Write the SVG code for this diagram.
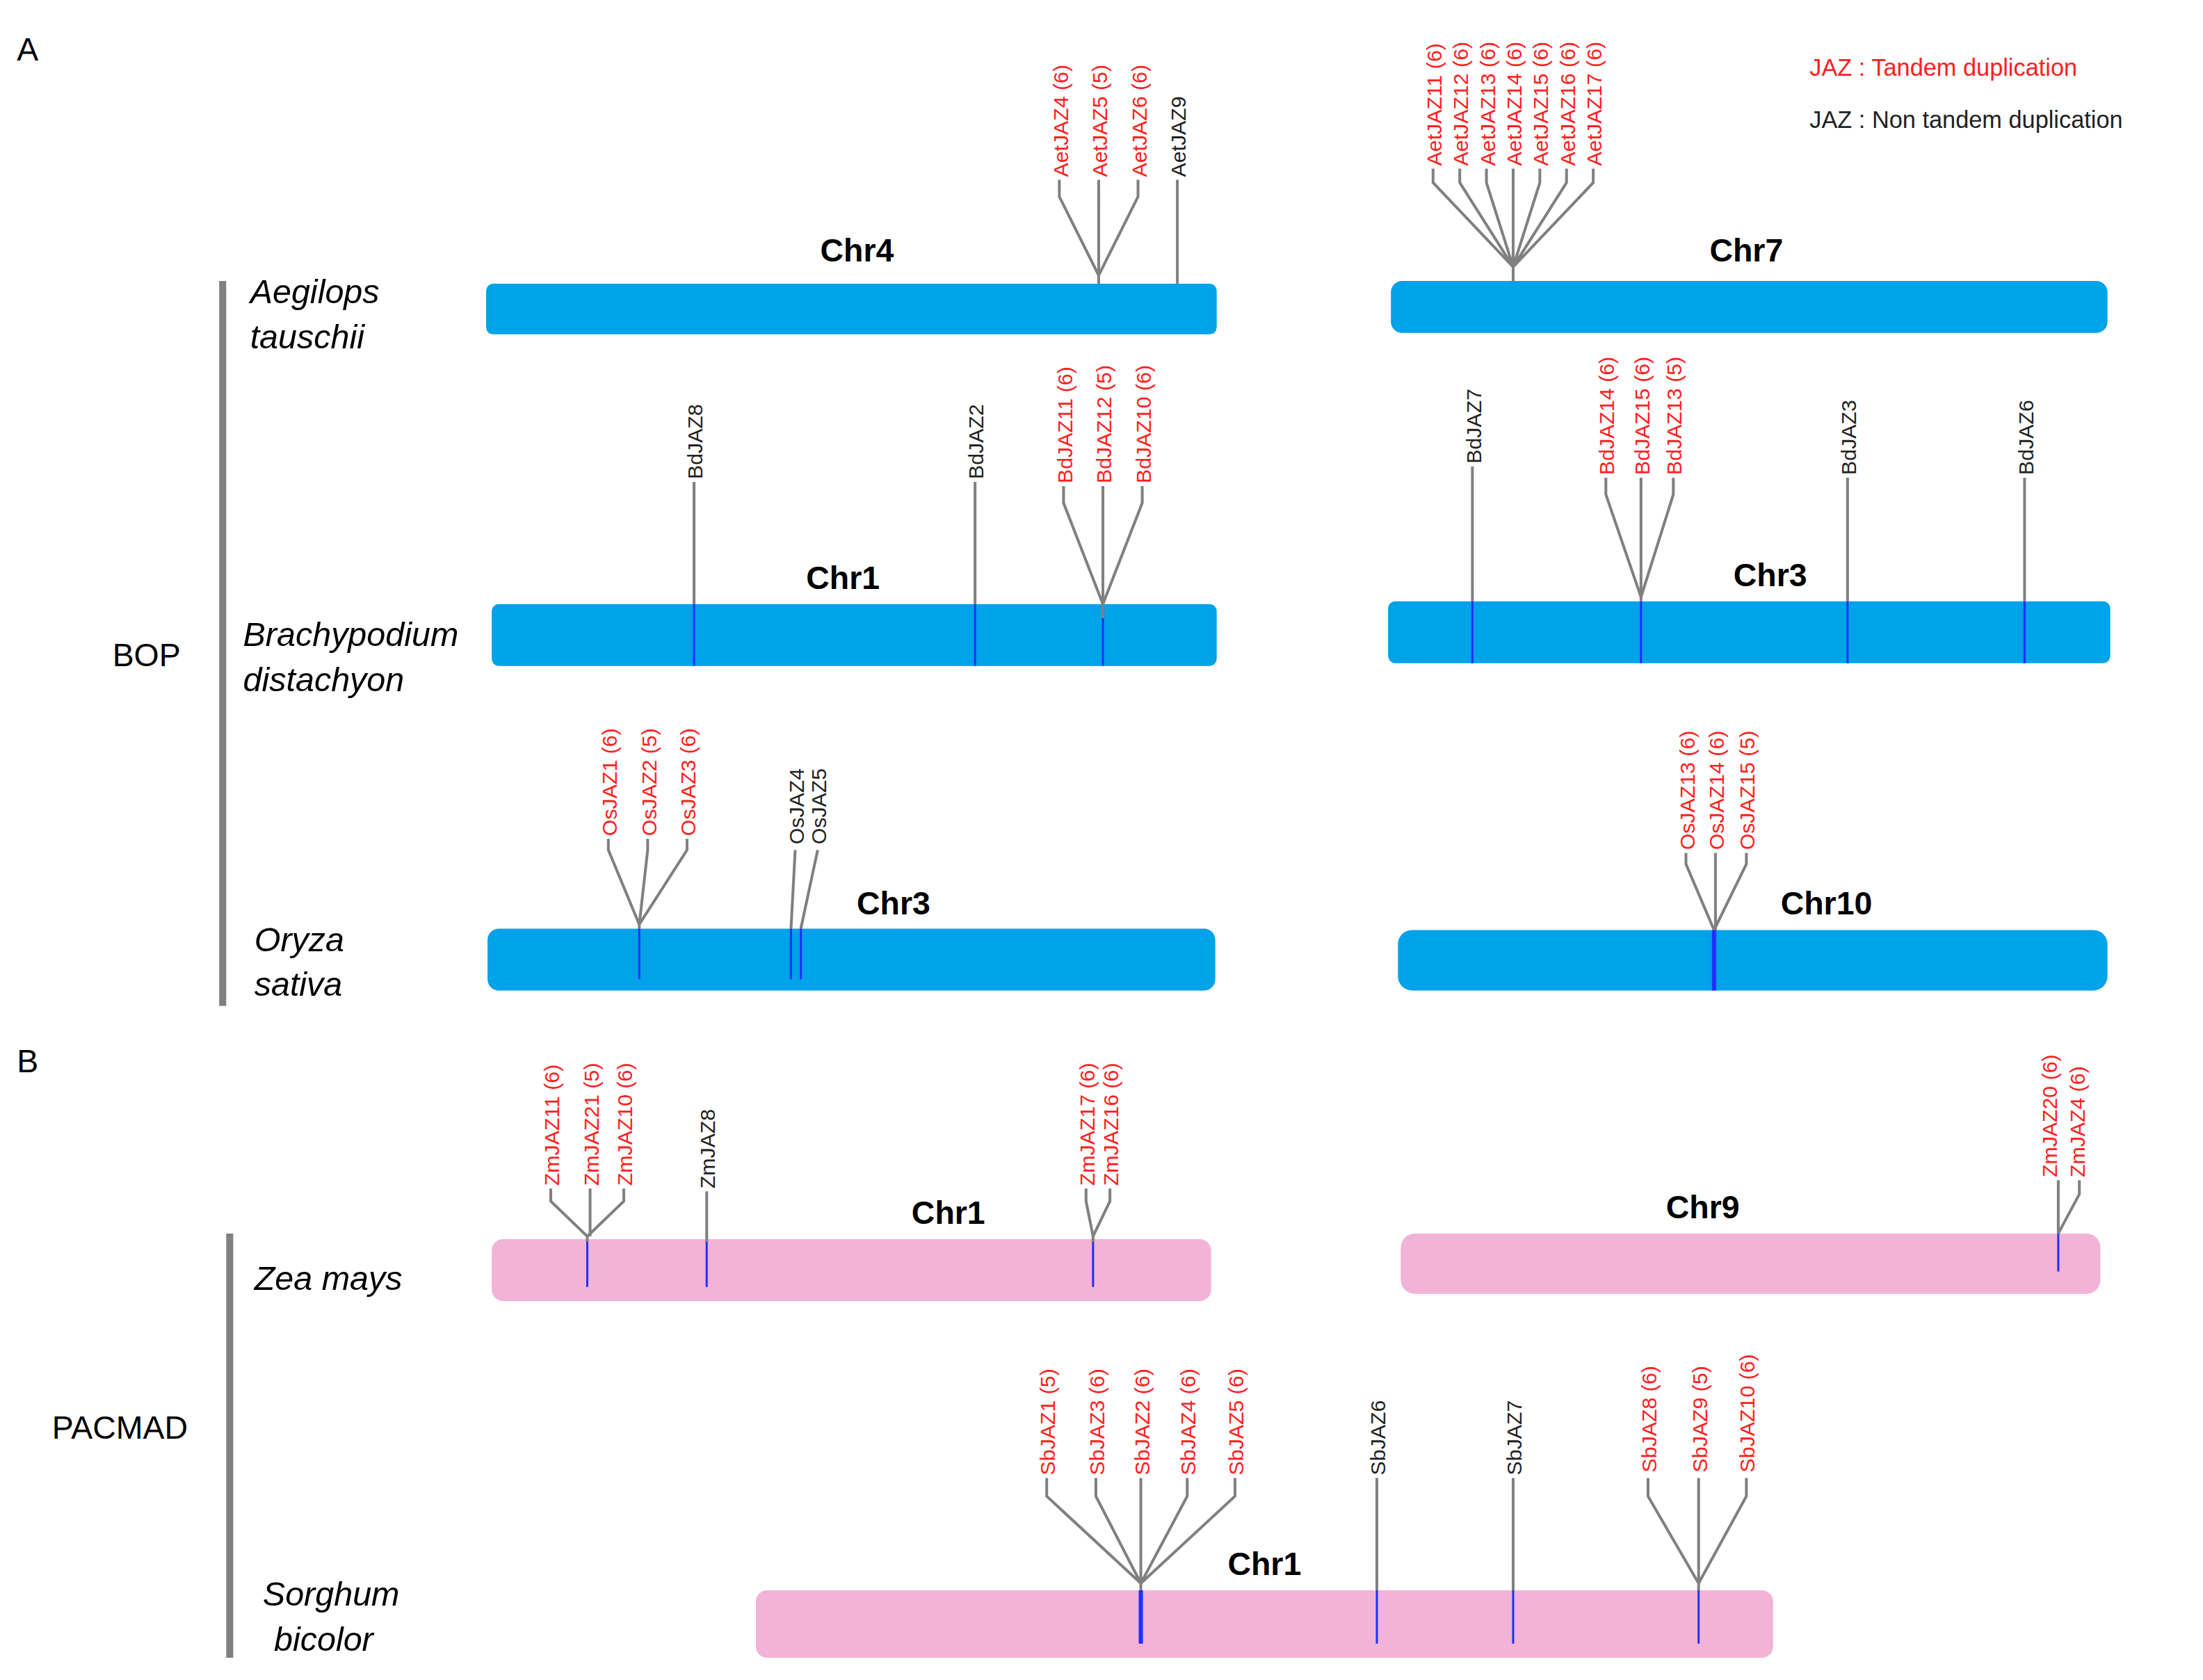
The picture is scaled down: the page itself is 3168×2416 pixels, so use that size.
<svg xmlns="http://www.w3.org/2000/svg" width="3168" height="2416" viewBox="0 0 3168 2416">
<style>
.bb{fill:#00a2e8}.pk{fill:#f2b3d6}
.ln{stroke:#808080;stroke-width:2;fill:none}
.mk{stroke:#2030ff;stroke-width:1.5}
.g{font-family:"Liberation Sans",Arial,sans-serif;font-size:15px}
.r{fill:#ff2020}.k{fill:#222}
.chr{font-family:"Liberation Sans",Arial,sans-serif;font-size:23px;font-weight:bold;text-anchor:middle}
.sp{font-family:"Liberation Sans",Arial,sans-serif;font-size:24px;font-style:italic}
.t{font-family:"Liberation Sans",Arial,sans-serif;font-size:23px}
.lg{font-family:"Liberation Sans",Arial,sans-serif;font-size:17px}
</style>
<rect width="3168" height="2416" fill="#fff"/>
<g transform="scale(2.0204)">
<g id="labels">
<text class="t" x="12" y="43">A</text>
<text class="t" x="12" y="763">B</text>
<text class="lg r" x="1288" y="54">JAZ : Tandem duplication</text>
<text class="lg k" x="1288" y="91">JAZ : Non tandem duplication</text>
<rect x="156" y="200" width="5" height="516" fill="#808080"/>
<text class="t" x="80" y="474">BOP</text>
<rect x="161" y="878" width="5" height="302" fill="#808080"/>
<text class="t" x="37" y="1024">PACMAD</text>
<text class="sp" x="178" y="216">Aegilops</text>
<text class="sp" x="178" y="248">tauschii</text>
<text class="sp" x="173" y="460">Brachypodium</text>
<text class="sp" x="173" y="492">distachyon</text>
<text class="sp" x="181" y="677">Oryza</text>
<text class="sp" x="181" y="709">sativa</text>
<text class="sp" x="181" y="918">Zea mays</text>
<text class="sp" x="187" y="1143">Sorghum</text>
<text class="sp" x="195" y="1175">bicolor</text>
</g>
<g id="chromosomes">
<rect class="bb" x="346" y="202" width="520" height="36" rx="5"/><text class="chr" x="610" y="186">Chr4</text>
<rect class="bb" x="990" y="200" width="510" height="37" rx="8"/><text class="chr" x="1243" y="186">Chr7</text>
<rect class="bb" x="350" y="430" width="516" height="44" rx="5"/><text class="chr" x="600" y="419">Chr1</text>
<rect class="bb" x="988" y="428" width="514" height="44" rx="5"/><text class="chr" x="1260" y="417">Chr3</text>
<rect class="bb" x="347" y="661" width="518" height="44" rx="8"/><text class="chr" x="636" y="651">Chr3</text>
<rect class="bb" x="995" y="662" width="505" height="43" rx="10"/><text class="chr" x="1300" y="651">Chr10</text>
<rect class="pk" x="350" y="882" width="512" height="44" rx="8"/><text class="chr" x="675" y="871">Chr1</text>
<rect class="pk" x="997" y="878" width="498" height="43" rx="10"/><text class="chr" x="1212" y="867">Chr9</text>
<rect class="pk" x="538" y="1132" width="724" height="48" rx="8"/><text class="chr" x="900" y="1121">Chr1</text>
</g>
<g id="connectors">
<path class="ln" d="M754,128V140L782,196M782,128V196M810,128V140L782,196M782,196V202M838,128V202"/>
<path class="ln" d="M1020,120V130L1077,190M1039,120V130L1077,190M1058,120V130L1077,190M1077,120V200M1096,120V130L1077,190M1115,120V130L1077,190M1134,120V130L1077,190"/>
<path class="ln" d="M494,343V430M694,343V430M757,346V358L785,430M785,346V440M813,346V358L785,430"/>
<path class="ln" d="M1048,332V428M1143,340V352L1168,425M1168,340V428M1191,340V352L1168,425M1315,340V428M1441,340V428"/>
<path class="ln" d="M433,597V605L455,658M461,597V605L455,658M489,597V605L455,658M455,658V661M566,605L563,661M582,605L570,661"/>
<path class="ln" d="M1200,607V615L1220,662M1221,607V662M1243,607V615L1220,662"/>
<path class="ln" d="M392,846V855L418,880M420,846V880M444,846V855L418,880M418,880V884M503,848V884M773,846V855L778,880M790,846V855L778,880M778,880V884"/>
<path class="ln" d="M1465,840V878M1480,840V850L1465,878"/>
<path class="ln" d="M745,1052V1065L812,1127M780,1052V1065L812,1127M812,1052V1132M845,1052V1065L812,1127M879,1052V1065L812,1127M980,1052V1132M1077,1052V1132M1173,1052V1065L1209,1127M1209,1052V1132M1243,1052V1065L1209,1127"/>
<path class="mk" d="M494,430V474M694,430V474M785,440V474M1048,428V472M1168,428V472M1315,428V472M1441,428V472M455,661V697M563,661V697M570,661V697M418,884V916M503,884V916M778,884V916M1465,878V905M980,1132V1170M1077,1132V1170M1209,1132V1170"/>
<path class="mk" style="stroke-width:3" d="M1220,662V705M812,1132V1170"/>
</g>
<g id="genes" class="g">
<text class="r" transform="translate(760,126) rotate(-90)">AetJAZ4 (6)</text>
<text class="r" transform="translate(788,126) rotate(-90)">AetJAZ5 (5)</text>
<text class="r" transform="translate(816,126) rotate(-90)">AetJAZ6 (6)</text>
<text class="k" transform="translate(844,126) rotate(-90)">AetJAZ9</text>
<text class="r" transform="translate(1026,118) rotate(-90)">AetJAZ11 (6)</text>
<text class="r" transform="translate(1045,118) rotate(-90)">AetJAZ12 (6)</text>
<text class="r" transform="translate(1064,118) rotate(-90)">AetJAZ13 (6)</text>
<text class="r" transform="translate(1083,118) rotate(-90)">AetJAZ14 (6)</text>
<text class="r" transform="translate(1102,118) rotate(-90)">AetJAZ15 (6)</text>
<text class="r" transform="translate(1121,118) rotate(-90)">AetJAZ16 (6)</text>
<text class="r" transform="translate(1140,118) rotate(-90)">AetJAZ17 (6)</text>
<text class="k" transform="translate(500,341) rotate(-90)">BdJAZ8</text>
<text class="k" transform="translate(700,341) rotate(-90)">BdJAZ2</text>
<text class="r" transform="translate(763,344) rotate(-90)">BdJAZ11 (6)</text>
<text class="r" transform="translate(791,344) rotate(-90)">BdJAZ12 (5)</text>
<text class="r" transform="translate(819,344) rotate(-90)">BdJAZ10 (6)</text>
<text class="k" transform="translate(1054,330) rotate(-90)">BdJAZ7</text>
<text class="r" transform="translate(1149,338) rotate(-90)">BdJAZ14 (6)</text>
<text class="r" transform="translate(1174,338) rotate(-90)">BdJAZ15 (6)</text>
<text class="r" transform="translate(1197,338) rotate(-90)">BdJAZ13 (5)</text>
<text class="k" transform="translate(1321,338) rotate(-90)">BdJAZ3</text>
<text class="k" transform="translate(1447,338) rotate(-90)">BdJAZ6</text>
<text class="r" transform="translate(439,595) rotate(-90)">OsJAZ1 (6)</text>
<text class="r" transform="translate(467,595) rotate(-90)">OsJAZ2 (5)</text>
<text class="r" transform="translate(495,595) rotate(-90)">OsJAZ3 (6)</text>
<text class="k" transform="translate(572,601) rotate(-90)">OsJAZ4</text>
<text class="k" transform="translate(588,601) rotate(-90)">OsJAZ5</text>
<text class="r" transform="translate(1206,605) rotate(-90)">OsJAZ13 (6)</text>
<text class="r" transform="translate(1227,605) rotate(-90)">OsJAZ14 (6)</text>
<text class="r" transform="translate(1249,605) rotate(-90)">OsJAZ15 (5)</text>
<text class="r" transform="translate(398,844) rotate(-90)">ZmJAZ11 (6)</text>
<text class="r" transform="translate(426,844) rotate(-90)">ZmJAZ21 (5)</text>
<text class="r" transform="translate(450,844) rotate(-90)">ZmJAZ10 (6)</text>
<text class="k" transform="translate(509,846) rotate(-90)">ZmJAZ8</text>
<text class="r" transform="translate(779,844) rotate(-90)">ZmJAZ17 (6)</text>
<text class="r" transform="translate(796,844) rotate(-90)">ZmJAZ16 (6)</text>
<text class="r" transform="translate(1464,838) rotate(-90)">ZmJAZ20 (6)</text>
<text class="r" transform="translate(1484,838) rotate(-90)">ZmJAZ4 (6)</text>
<text class="r" transform="translate(751,1050) rotate(-90)">SbJAZ1 (5)</text>
<text class="r" transform="translate(786,1050) rotate(-90)">SbJAZ3 (6)</text>
<text class="r" transform="translate(818,1050) rotate(-90)">SbJAZ2 (6)</text>
<text class="r" transform="translate(851,1050) rotate(-90)">SbJAZ4 (6)</text>
<text class="r" transform="translate(885,1050) rotate(-90)">SbJAZ5 (6)</text>
<text class="k" transform="translate(986,1050) rotate(-90)">SbJAZ6</text>
<text class="k" transform="translate(1083,1050) rotate(-90)">SbJAZ7</text>
<text class="r" transform="translate(1179,1048) rotate(-90)">SbJAZ8 (6)</text>
<text class="r" transform="translate(1215,1048) rotate(-90)">SbJAZ9 (5)</text>
<text class="r" transform="translate(1249,1048) rotate(-90)">SbJAZ10 (6)</text>
</g>
</g>
</svg>
